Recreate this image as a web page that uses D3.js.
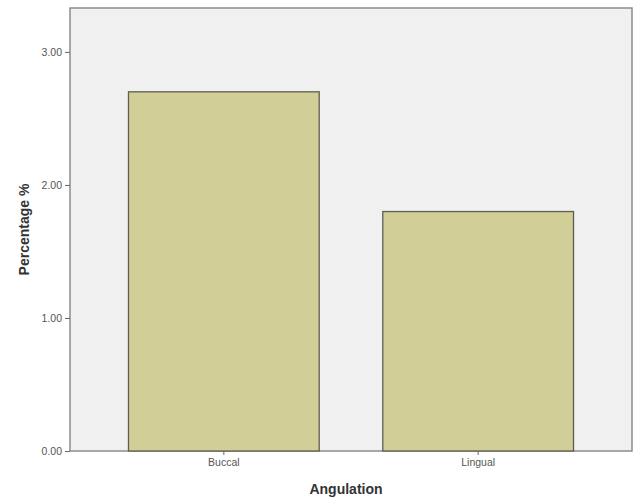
<!DOCTYPE html>
<html>
<head>
<meta charset="utf-8">
<script src="https://cdn.jsdelivr.net/npm/d3@7"></script>
<style>
  body { margin: 0; background: #fff; }
  svg { display: block; font-family: "Liberation Sans", Arial, sans-serif; }
</style>
</head>
<body>
<svg id="chart" width="636" height="498"></svg>
<script>
  var categories = ['Buccal', 'Lingual'];
  var values = [2.70, 1.80];
  var yTicks = [0, 1, 2, 3];

  var svg = d3.select('#chart'),
      margin = { top: 8, right: 4, bottom: 47, left: 70 },
      width = 636 - margin.left - margin.right,
      height = 498 - margin.top - margin.bottom;

  var x = d3.scaleBand()
      .domain(categories)
      .range([0, width])
      .paddingInner(0.25)
      .paddingOuter(0.23);

  var y = d3.scaleLinear()
      .domain([0, 3.33])
      .range([height, 0]);

  var g = svg.append('g')
      .attr('transform', 'translate(' + margin.left + ',' + margin.top + ')');

  g.append('rect')
      .attr('width', width)
      .attr('height', height)
      .style('fill', '#f0f0f0')
      .style('stroke', '#8c8c8c')
      .style('stroke-width', 1.5);

  g.selectAll('.bar')
      .data(values)
      .enter().append('rect')
      .attr('class', 'bar')
      .attr('x', function (d, i) { return x(categories[i]); })
      .attr('y', function (d) { return y(d); })
      .attr('width', x.bandwidth())
      .attr('height', function (d) { return height - y(d); })
      .style('fill', '#d2ce97')
      .style('stroke', '#5e5e50')
      .style('stroke-width', 1.3);

  var yAxis = g.append('g')
      .call(d3.axisLeft(y).tickValues(yTicks).tickFormat(d3.format('.2f')).tickSize(5).tickPadding(3));

  var xAxis = g.append('g')
      .attr('transform', 'translate(0,' + height + ')')
      .call(d3.axisBottom(x).tickSize(4).tickPadding(4));

  [yAxis, xAxis].forEach(function (ax) {
      ax.select('.domain').remove();
      ax.selectAll('line').style('stroke', '#666');
      ax.selectAll('text')
          .style('font-size', '10.5px')
          .style('fill', '#555');
  });

  svg.append('text')
      .attr('x', 346)
      .attr('y', 494)
      .attr('text-anchor', 'middle')
      .style('font-size', '14px')
      .style('font-weight', 'bold')
      .style('fill', '#333')
      .text('Angulation');

  svg.append('text')
      .attr('transform', 'translate(29,' + (margin.top + height / 2) + ') rotate(-90)')
      .attr('text-anchor', 'middle')
      .style('font-size', '14px')
      .style('font-weight', 'bold')
      .style('fill', '#333')
      .text('Percentage %');
</script>
</body>
</html>
